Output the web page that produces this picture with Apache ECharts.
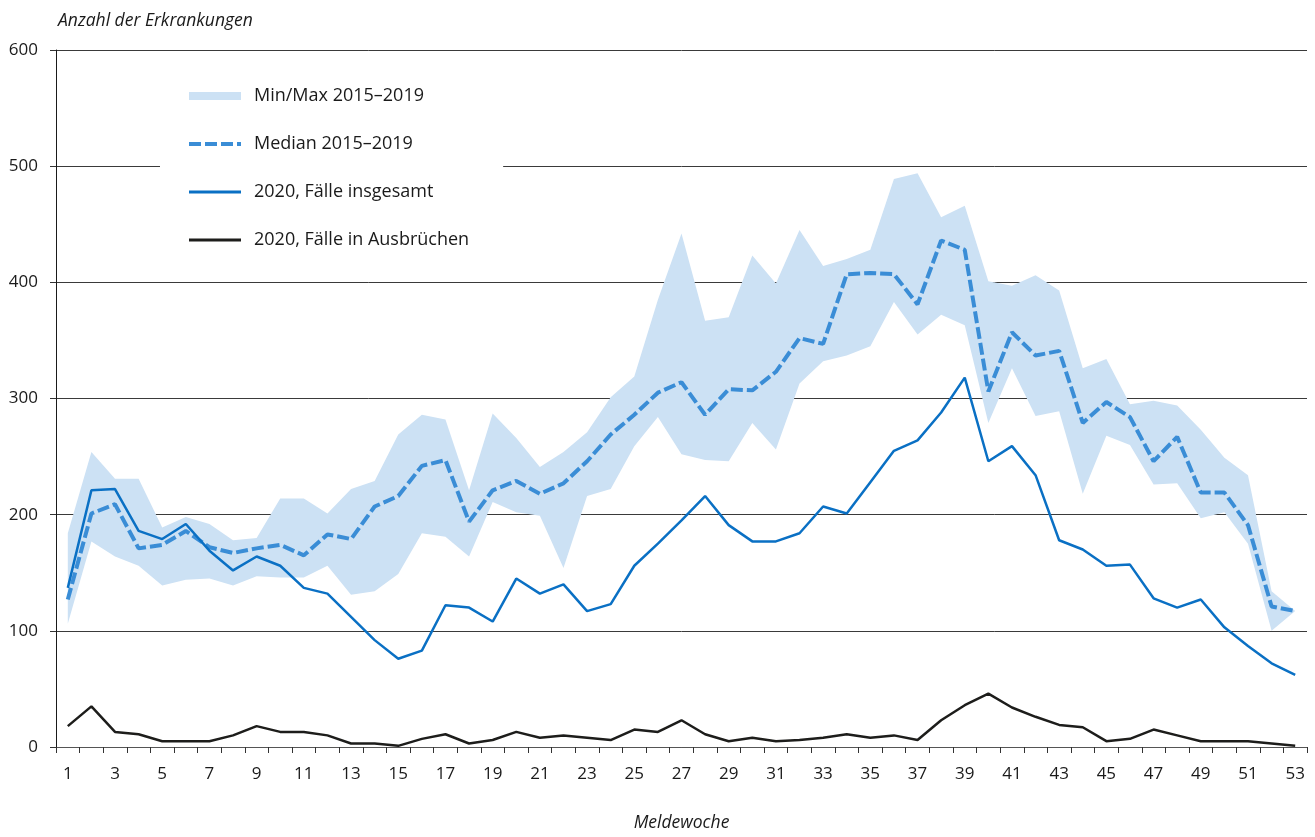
<!DOCTYPE html>
<html>
<head>
<meta charset="utf-8">
<script src="https://cdn.jsdelivr.net/npm/echarts@6/dist/echarts.min.js"></script>
<style>
  html, body { margin: 0; padding: 0; background: #ffffff; }
  #chart { width: 1315px; height: 837px; }
</style>
</head>
<body>
<div id="chart"></div>
<script>
// Meldewochen 1–53
const weeks = Array.from({ length: 53 }, (_, i) => String(i + 1));

// Min/Max und Median der Jahre 2015–2019
const band2015_2019Min = [106,177,164,156,139,144,145,139,147,146, 146,156,131,134,149,184,181,164,211,202,
  199,154,216,222,259,284,252,247,246,279, 256,313,332,337,345,383,355,372,363,279,
  326,285,289,218,268,260,226,227,197,202, 175,100,117];
const band2015_2019Max = [184,254,231,231,189,198,192,178,180,214, 214,201,222,229,269,286,282,221,287,266,
  241,254,271,301,319,385,442,367,370,423, 399,445,414,420,428,489,494,456,466,401,
  397,406,393,326,334,295,298,294,273,249, 234,134,117];
const median2015_2019 = [127,201,209,171,174,186,172,167,171,174, 165,183,179,207,216,242,247,194,221,229,
  218,227,246,269,286,305,314,286,308,307, 323,352,347,407,408,407,381,436,428,306,
  357,337,341,279,297,284,246,267,219,219, 191,121,117];

// 2020
const cases2020Total = [137,221,222,186,179,192,169,152,164,156, 137,132,112,92,76,83,122,120,108,145,
  132,140,117,123,156,175,195,216,191,177, 177,184,207,201,228,255,264,288,318,246,
  259,234,178,170,156,157,128,120,127,103, 87,72,62];
const cases2020Outbreaks = [18,35,13,11,5,5,5,10,18,13, 13,10,3,3,1,7,11,3,6,13,
  8,10,8,6,15,13,23,11,5,8, 5,6,8,11,8,10,6,23,36,46,
  34,26,19,17,5,7,15,10,5,5, 5,3,1];

const yTicks = { min: 0, max: 600, step: 100 };

const FONT = '"Open Sans", sans-serif';
const TEXT = '#1a1a1a';
const BAND = '#cce1f4';
const MEDIAN = '#3a8dd6';
const TOTAL = '#0a70c4';
const OUTBREAK = '#1d1d1b';

// height of the shaded band, stacked on top of the minimum
const bandSpan = band2015_2019Max.map((v, i) => v - band2015_2019Min[i]);

const chart = echarts.init(document.getElementById('chart'), null, { renderer: 'canvas' });

// line legend entries: keep only the stroke, hide the marker dot
const lineLegendItem = (name, lineStyle) => ({ name, itemStyle: { opacity: 0 }, lineStyle });

chart.setOption({
  animation: false,
  backgroundColor: '#ffffff',
  textStyle: { fontFamily: FONT, color: TEXT },
  grid: { left: 56, right: 8, top: 50, bottom: 75, containLabel: false },
  legend: {
    orient: 'vertical',
    left: 160,
    top: 70,
    padding: [15, 34, 15, 27],
    backgroundColor: '#ffffff',
    itemWidth: 52,
    itemHeight: 8,
    itemGap: 26,
    selectedMode: false,
    textStyle: { fontFamily: FONT, fontSize: 18, color: TEXT, lineHeight: 22, padding: [0, 0, 0, 8] },
    data: [
      { name: 'Min/Max 2015–2019', icon: 'rect', itemStyle: { color: BAND, opacity: 1 } },
      lineLegendItem('Median 2015–2019', { color: MEDIAN, width: 4, type: [12, 4] }),
      lineLegendItem('2020, Fälle insgesamt', { color: TOTAL, width: 3, type: 'solid' }),
      lineLegendItem('2020, Fälle in Ausbrüchen', { color: OUTBREAK, width: 3, type: 'solid' })
    ]
  },
  xAxis: {
    type: 'category',
    data: weeks,
    boundaryGap: true,
    name: 'Meldewoche',
    nameLocation: 'middle',
    nameGap: 67,
    nameTextStyle: { fontFamily: FONT, fontSize: 17.5, fontStyle: 'italic', color: TEXT },
    axisLine: { lineStyle: { color: '#555555', width: 1 } },
    axisTick: { show: true, interval: 0, alignWithLabel: false, length: 6, lineStyle: { color: '#333333' } },
    axisLabel: { interval: 1, margin: 19, fontSize: 17, color: TEXT, fontFamily: FONT },
    splitLine: { show: false }
  },
  yAxis: {
    type: 'value',
    min: yTicks.min,
    max: yTicks.max,
    interval: yTicks.step,
    name: 'Anzahl der Erkrankungen',
    nameLocation: 'end',
    nameGap: 20,
    nameTextStyle: { fontFamily: FONT, fontSize: 17.5, fontStyle: 'italic', color: TEXT, align: 'left', padding: [0, 0, 0, 2] },
    axisLine: { show: true, lineStyle: { color: '#1a1a1a', width: 1 } },
    axisTick: { show: true, length: 6, lineStyle: { color: '#333333' } },
    axisLabel: { margin: 18, fontSize: 17, color: TEXT, fontFamily: FONT },
    splitLine: { show: true, lineStyle: { color: '#3a3a3a', width: 1 } }
  },
  series: [
    {
      name: 'band-base',
      type: 'line',
      stack: 'band',
      data: band2015_2019Min,
      symbol: 'none',
      silent: true,
      lineStyle: { width: 0, opacity: 0 },
      z: 1
    },
    {
      name: 'Min/Max 2015–2019',
      type: 'line',
      stack: 'band',
      data: bandSpan,
      symbol: 'none',
      silent: true,
      itemStyle: { color: BAND },
      lineStyle: { width: 0, opacity: 0 },
      areaStyle: { color: BAND, opacity: 1 },
      z: 1
    },
    {
      name: 'Median 2015–2019',
      type: 'line',
      data: median2015_2019,
      symbol: 'none',
      itemStyle: { color: MEDIAN },
      lineStyle: { color: MEDIAN, width: 4, type: [12, 4] },
      z: 3
    },
    {
      name: '2020, Fälle insgesamt',
      type: 'line',
      data: cases2020Total,
      symbol: 'none',
      itemStyle: { color: TOTAL },
      lineStyle: { color: TOTAL, width: 2.5 },
      z: 4
    },
    {
      name: '2020, Fälle in Ausbrüchen',
      type: 'line',
      data: cases2020Outbreaks,
      symbol: 'none',
      itemStyle: { color: OUTBREAK },
      lineStyle: { color: OUTBREAK, width: 2.5 },
      z: 4
    }
  ]
});
</script>
</body>
</html>
